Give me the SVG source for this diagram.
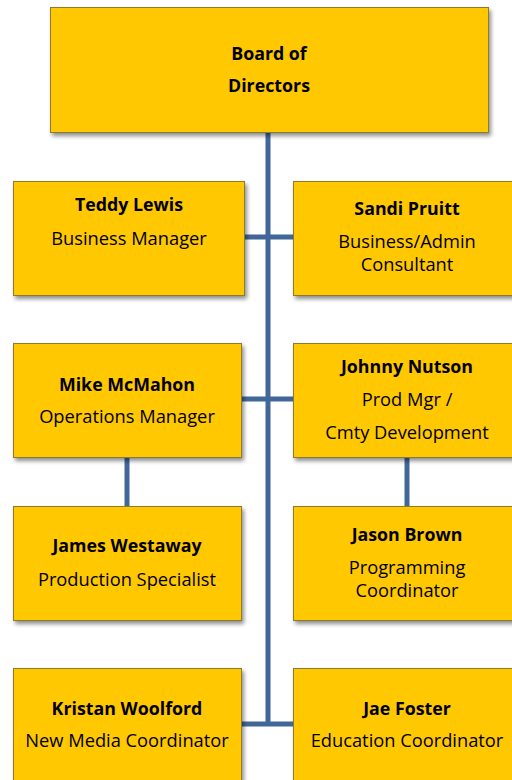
<svg xmlns="http://www.w3.org/2000/svg" width="512" height="780" viewBox="0 0 512 780">
  <defs>
    <filter id="sh" x="-10%" y="-10%" width="130%" height="140%">
      <feGaussianBlur in="SourceAlpha" stdDeviation="2"/>
      <feOffset dx="1.5" dy="3" result="b"/>
      <feComponentTransfer><feFuncA type="linear" slope="0.45"/></feComponentTransfer>
      <feMerge><feMergeNode/><feMergeNode in="SourceGraphic"/></feMerge>
    </filter>
  </defs>
  <style>
    .box { fill: #FFC800; stroke: #8C7A2E; stroke-width: 1; filter: url(#sh); }
    .con { stroke: #41679A; stroke-width: 5; fill: none; }
    text { font-family: "Open Sans", "Liberation Sans", sans-serif; font-size: 18.3px; fill: #000; text-anchor: middle; }
    .b { font-weight: bold; font-size: 17.8px; }
  </style>
  <rect width="512" height="780" fill="#fff"/>
  <g id="connectors">
    <line class="con" x1="268" y1="132" x2="268" y2="726"/>
    <line class="con" x1="244" y1="237" x2="293" y2="237"/>
    <line class="con" x1="242" y1="399" x2="293" y2="399"/>
    <line class="con" x1="242" y1="724" x2="293" y2="724"/>
    <line class="con" x1="127" y1="458" x2="127" y2="506"/>
    <line class="con" x1="407" y1="457" x2="407" y2="506"/>
  </g>
  <g id="board">
    <rect class="box" x="50.5" y="7.5" width="438" height="125"/>
    <text class="b" x="269" y="60">Board of</text>
    <text class="b" x="269" y="92">Directors</text>
  </g>
  <g id="teddy">
    <rect class="box" x="13.5" y="181.5" width="231" height="114"/>
    <text class="b" x="129" y="211">Teddy Lewis</text>
    <text x="129" y="245">Business Manager</text>
  </g>
  <g id="sandi">
    <rect class="box" x="293.5" y="181.5" width="230" height="114"/>
    <text class="b" x="407" y="215">Sandi Pruitt</text>
    <text x="407" y="248">Business/Admin</text>
    <text x="407" y="271">Consultant</text>
  </g>
  <g id="mike">
    <rect class="box" x="13.5" y="343.5" width="228" height="114"/>
    <text class="b" x="127" y="391">Mike McMahon</text>
    <text x="127" y="423">Operations Manager</text>
  </g>
  <g id="johnny">
    <rect class="box" x="293.5" y="343.5" width="230" height="114"/>
    <text class="b" x="407" y="373">Johnny Nutson</text>
    <text x="407" y="406">Prod Mgr /</text>
    <text x="407" y="439">Cmty Development</text>
  </g>
  <g id="james">
    <rect class="box" x="13.5" y="506.5" width="228" height="114"/>
    <text class="b" x="127" y="552">James Westaway</text>
    <text x="127" y="586">Production Specialist</text>
  </g>
  <g id="jason">
    <rect class="box" x="293.5" y="506.5" width="230" height="114"/>
    <text class="b" x="407" y="541">Jason Brown</text>
    <text x="407" y="574">Programming</text>
    <text x="407" y="597">Coordinator</text>
  </g>
  <g id="kristan">
    <rect class="box" x="13.5" y="668.5" width="228" height="130"/>
    <text class="b" x="127" y="715">Kristan Woolford</text>
    <text x="127" y="747">New Media Coordinator</text>
  </g>
  <g id="jae">
    <rect class="box" x="293.5" y="668.5" width="230" height="130"/>
    <text class="b" x="407" y="715">Jae Foster</text>
    <text x="407" y="747">Education Coordinator</text>
  </g>
</svg>
